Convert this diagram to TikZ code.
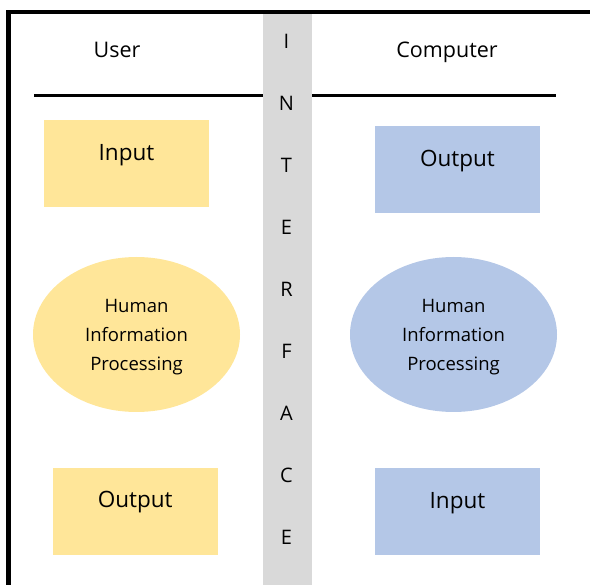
\documentclass[tikz,border=0pt]{standalone}
\usepackage{fontspec}
\setmainfont{Open Sans}
\usetikzlibrary{shapes.geometric}
\definecolor{userfill}{HTML}{FFE699}
\definecolor{compfill}{HTML}{B4C7E7}
\definecolor{bandfill}{HTML}{D9D9D9}

\begin{document}
\begin{tikzpicture}[x=1pt,y=-1pt,
  box/.style={rectangle, draw=none, inner sep=0pt, minimum width=165pt, minimum height=87pt},
  blob/.style={ellipse, draw=none, inner sep=0pt, minimum width=207pt, minimum height=155pt},
  boxtext/.style={anchor=base, inner sep=0pt, font=\fontsize{22.5}{26}\selectfont},
  headtext/.style={anchor=base, inner sep=0pt, font=\fontsize{21.5}{25}\selectfont},
  blobtext/.style={anchor=center, inner sep=0pt, align=center, font=\fontsize{18.5}{29}\selectfont},
  bandletter/.style={anchor=base, inner sep=0pt, font=\fontsize{20}{24}\selectfont}]

\useasboundingbox (0,0) rectangle (590,585);
\begin{scope}
  \clip (0,0) rectangle (590,585);
  % outer frame, open to the right and bottom
  \coordinate (frameR) at (600,12);
  \coordinate (frameC) at (8.5,12);
  \coordinate (frameB) at (8.5,600);
  \draw[line width=4.5pt] (frameR) -- (frameC) -- (frameB);

  % heading rule
  \coordinate (ruleL) at (34,96);
  \coordinate (ruleR) at (556,96);
  \draw[line width=3pt] (ruleL) -- (ruleR);

  % interface band
  \fill[bandfill] (263,14) rectangle (311.5,590);
\end{scope}

% column headings
\node[headtext] (user) at (117,58) {User};
\node[headtext] (computer) at (447,58) {Computer};

% band lettering
\foreach \ch [count=\i from 0] in {I,N,T,E,R,F,A,C,E}
  \node[bandletter] (band\i) at (286.5,{49+62*\i}) {\ch};

% user column
\node[box, fill=userfill] (uin) at (126.5,163.5) {};
\node[boxtext] (uinT) at (126.5,161) {Input};
\node[blob, fill=userfill] (uhip) at (136.5,334.5) {};
\node[blobtext] (uhipT) at (136.5,336.8) {Human\\Information\\Processing};
\node[box, fill=userfill] (uout) at (135.2,511.3) {};
\node[boxtext] (uoutT) at (135.2,508) {Output};

% computer column
\node[box, fill=compfill] (cout) at (457.5,169.5) {};
\node[boxtext] (coutT) at (457.5,167) {Output};
\node[blob, fill=compfill] (chip) at (453.5,334.5) {};
\node[blobtext] (chipT) at (453.5,336.8) {Human\\Information\\Processing};
\node[box, fill=compfill] (cin) at (457.5,511.3) {};
\node[boxtext] (cinT) at (457.5,509) {Input};
\end{tikzpicture}
\end{document}
